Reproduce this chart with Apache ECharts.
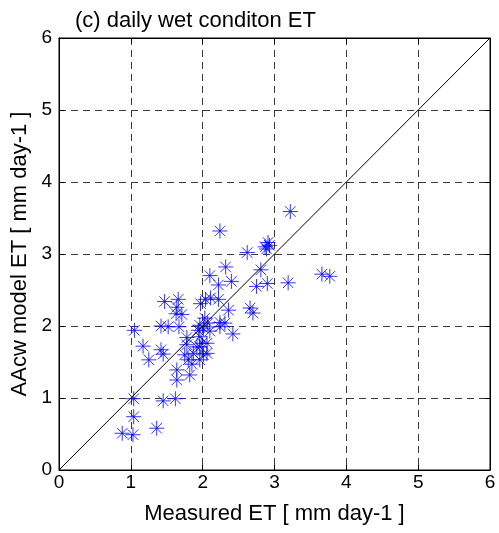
<!DOCTYPE html>
<html><head><meta charset="utf-8">
<script src="https://cdn.jsdelivr.net/npm/echarts@6/dist/echarts.min.js"></script>
<style>html,body{margin:0;padding:0;background:#fff}#c{width:499px;height:533px}</style>
</head><body><div id="c"></div>
<script>
const titleText = "(c) daily wet conditon ET";
const xName = "Measured ET [ mm day-1 ]";
const yName = "AAcw model ET [ mm day-1 ]";
const tickValues = [0, 1, 2, 3, 4, 5, 6];
const measuredET = [3.22,2.24,2.87,2.91,2.93,2.89,2.62,2.32,2.10,2.81,2.40,2.22,2.75,2.90,3.19,3.66,3.77,2.66,2.70,2.36,2.42,2.24,2.22,
  1.47,1.66,1.64,1.71,1.63,1.97,2.04,2.11,1.05,1.42,1.52,1.67,1.96,2.07,2.03,2.24,2.10,1.94,2.01,1.78,1.96,
  1.17,1.42,1.45,1.25,1.78,1.75,1.80,1.64,1.64,1.82,1.85,1.96,2.01,1.99,1.92,1.96,1.87,2.06,2.06,
  1.04,1.45,1.62,1.04,0.88,1.03,1.36,2.31];
const modelET = [3.59,3.32,3.10,3.16,3.12,3.07,3.02,2.82,2.70,2.78,2.62,2.57,2.55,2.59,2.60,2.72,2.69,2.25,2.18,2.22,1.89,2.05,2.37,
  2.34,2.37,2.26,2.16,2.17,2.31,2.37,2.39,1.94,2.00,1.99,1.99,2.01,2.04,2.11,1.99,1.93,1.94,1.97,1.84,1.85,
  1.72,1.67,1.61,1.53,1.74,1.60,1.53,1.39,1.25,1.32,1.47,1.71,1.60,1.76,1.71,1.53,1.62,1.76,1.62,
  0.99,0.96,0.99,0.74,0.51,0.49,0.58,2.04];
const oneToOne = [[0,0],[6,6]];

const pts = measuredET.map((v,i)=>[v, modelET[i]]);
const font = 'Liberation Sans, Arial, sans-serif';
const chart = echarts.init(document.getElementById('c'), null, {renderer:'canvas'});
const baseAxis = {
  min: 0, max: 6, interval: 1,
  axisLine: {show:true, onZero:false, lineStyle:{color:'#000', width:1}},
  axisTick: {show:true, inside:true, length:5, lineStyle:{color:'#000'}},
  splitLine: {show:false}
};
chart.setOption({
  animation: false,
  backgroundColor: '#fff',
  title: {text: titleText, left: 70, top: 5, textStyle:{fontFamily:font, fontSize:22, fontWeight:'normal', color:'#000'}},
  grid: {left:59, top:38, right:9, bottom:63, show:true, borderColor:'#000', borderWidth:1},
  xAxis: [
    Object.assign({}, baseAxis, {type:'value', position:'bottom', name:xName, nameLocation:'middle', nameGap:33,
      nameTextStyle:{fontFamily:font, fontSize:22, color:'#000'},
      axisLabel:{fontFamily:font, fontSize:19, color:'#000', margin:3, formatter:(v)=>tickValues.includes(v)?String(v):''},
      splitLine:{show:true, lineStyle:{color:'#3a3a3a', type:[7,5], width:1}}}),
    Object.assign({}, baseAxis, {type:'value', position:'top', axisLabel:{show:false}})
  ],
  yAxis: [
    Object.assign({}, baseAxis, {type:'value', position:'left', name:yName, nameLocation:'middle', nameGap:25,
      nameTextStyle:{fontFamily:font, fontSize:22, color:'#000'},
      axisLabel:{fontFamily:font, fontSize:19, color:'#000', margin:7, formatter:(v)=>tickValues.includes(v)?String(v):''},
      splitLine:{show:true, lineStyle:{color:'#3a3a3a', type:[7,5], width:1}}}),
    Object.assign({}, baseAxis, {type:'value', position:'right', axisLabel:{show:false}})
  ],
  series: [
    {type:'line', data: oneToOne, symbol:'none', lineStyle:{color:'#000', width:1}, silent:true},
    {type:'scatter', data: pts, symbol:'path://M0,-10L0,10M-10,0L10,0M-7,-7L7,7M-7,7L7,-7', symbolSize:15,
      itemStyle:{color:'rgba(0,0,0,0)', borderColor:'#0000ff', borderWidth:1}}
  ]
});
</script></body></html>
